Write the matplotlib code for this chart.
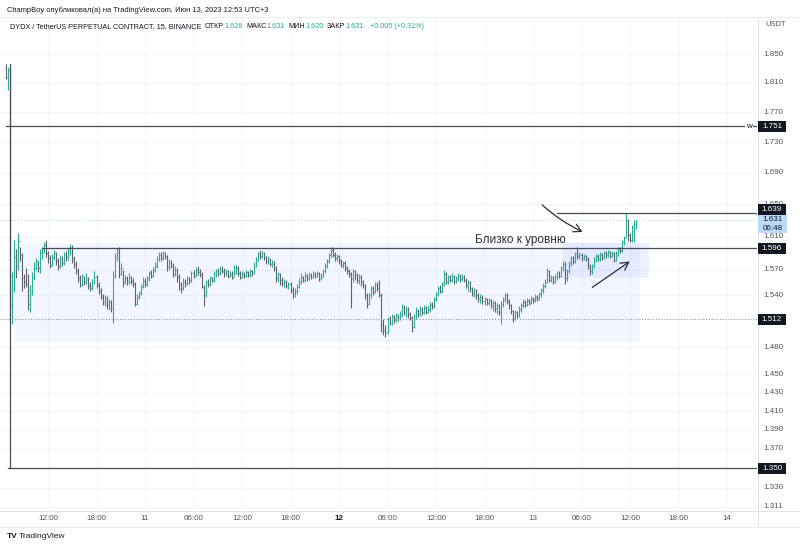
import numpy as np
import matplotlib
matplotlib.use("Agg")
import matplotlib.pyplot as plt
from matplotlib.collections import LineCollection
from matplotlib.patches import Rectangle
from matplotlib.lines import Line2D
from matplotlib.transforms import blended_transform_factory

plt.rcParams['font.family'] = ['Liberation Sans', 'DejaVu Sans']

# ---------------- data (15-min OHLC, DYDX/USDT) ----------------
first_bar_hour = 6.75          # hours from 2023-06-10 00:00
bar_step = 0.25                # 15 minutes
first_open = 1.830

close = [
    1.818, 1.828, 1.530, 1.555, 1.585, 1.575, 1.605, 1.588, 1.560, 1.555,
    1.553, 1.530, 1.545, 1.560, 1.572, 1.580, 1.572, 1.590, 1.594, 1.600,
    1.590, 1.584, 1.576, 1.585, 1.590, 1.580, 1.574, 1.583, 1.578, 1.588,
    1.585, 1.594, 1.598, 1.583, 1.577, 1.568, 1.560, 1.553, 1.561, 1.556,
    1.560, 1.551, 1.548, 1.556, 1.562, 1.552, 1.545, 1.538, 1.532, 1.537,
    1.528, 1.532, 1.525, 1.563, 1.585, 1.592, 1.565, 1.572, 1.555, 1.560,
    1.556, 1.561, 1.557, 1.553, 1.530, 1.538, 1.542, 1.550, 1.557, 1.553,
    1.560, 1.566, 1.563, 1.570, 1.575, 1.583, 1.588, 1.584, 1.590, 1.586,
    1.573, 1.578, 1.575, 1.565, 1.570, 1.562, 1.553, 1.548, 1.556, 1.554,
    1.560, 1.558, 1.566, 1.564, 1.570, 1.567, 1.565, 1.550, 1.540, 1.556,
    1.553, 1.560, 1.558, 1.565, 1.568, 1.566, 1.571, 1.569, 1.566, 1.568,
    1.563, 1.565, 1.562, 1.566, 1.572, 1.566, 1.562, 1.565, 1.563, 1.567,
    1.564, 1.568, 1.566, 1.575, 1.582, 1.589, 1.586, 1.590, 1.585, 1.580,
    1.583, 1.577, 1.579, 1.572, 1.560, 1.565, 1.558, 1.554, 1.556, 1.551,
    1.553, 1.546, 1.542, 1.545, 1.550, 1.556, 1.562, 1.558, 1.563, 1.560,
    1.564, 1.562, 1.565, 1.563, 1.566, 1.560, 1.563, 1.568, 1.575, 1.580,
    1.588, 1.594, 1.588, 1.584, 1.586, 1.580, 1.576, 1.578, 1.572, 1.568,
    1.565, 1.560, 1.568, 1.564, 1.558, 1.562, 1.555, 1.552, 1.540, 1.530,
    1.540, 1.548, 1.544, 1.552, 1.549, 1.540, 1.505, 1.500, 1.497, 1.512,
    1.508, 1.515, 1.511, 1.516, 1.513, 1.518, 1.526, 1.520, 1.524, 1.518,
    1.514, 1.503, 1.515, 1.522, 1.518, 1.524, 1.520, 1.525, 1.521, 1.524,
    1.529, 1.527, 1.535, 1.541, 1.548, 1.545, 1.553, 1.565, 1.556, 1.561,
    1.558, 1.562, 1.557, 1.560, 1.563, 1.559, 1.562, 1.558, 1.552, 1.555,
    1.548, 1.543, 1.546, 1.540, 1.536, 1.538, 1.533, 1.535, 1.531, 1.534,
    1.528, 1.531, 1.525, 1.528, 1.521, 1.530, 1.535, 1.540, 1.533, 1.528,
    1.522, 1.514, 1.520, 1.517, 1.524, 1.528, 1.532, 1.529, 1.534, 1.532,
    1.536, 1.534, 1.538, 1.536, 1.541, 1.546, 1.551, 1.556, 1.568, 1.558,
    1.561, 1.556, 1.562, 1.566, 1.563, 1.572, 1.577, 1.560, 1.568, 1.578,
    1.584, 1.580, 1.590, 1.586, 1.588, 1.584, 1.587, 1.583, 1.575, 1.568,
    1.574, 1.582, 1.586, 1.583, 1.588, 1.585, 1.590, 1.588, 1.591, 1.587,
    1.590, 1.582, 1.590, 1.595, 1.593, 1.603, 1.608, 1.630, 1.612, 1.606,
    1.622, 1.626, 1.631,
]

high = [
    1.836, 1.832, 1.828, 1.567, 1.606, 1.595, 1.615, 1.598, 1.590, 1.565,
    1.572, 1.565, 1.552, 1.567, 1.579, 1.584, 1.580, 1.595, 1.597, 1.604,
    1.606, 1.593, 1.588, 1.589, 1.594, 1.592, 1.584, 1.588, 1.586, 1.591,
    1.593, 1.598, 1.601, 1.600, 1.586, 1.580, 1.572, 1.564, 1.565, 1.563,
    1.566, 1.562, 1.556, 1.559, 1.568, 1.564, 1.556, 1.549, 1.541, 1.540,
    1.539, 1.536, 1.534, 1.568, 1.590, 1.596, 1.597, 1.578, 1.570, 1.564,
    1.563, 1.566, 1.563, 1.560, 1.555, 1.541, 1.545, 1.553, 1.562, 1.560,
    1.563, 1.569, 1.570, 1.573, 1.579, 1.586, 1.592, 1.591, 1.593, 1.592,
    1.588, 1.583, 1.582, 1.578, 1.574, 1.572, 1.565, 1.556, 1.560, 1.559,
    1.563, 1.562, 1.569, 1.570, 1.573, 1.574, 1.571, 1.567, 1.552, 1.558,
    1.559, 1.563, 1.562, 1.568, 1.571, 1.572, 1.574, 1.574, 1.572, 1.571,
    1.570, 1.569, 1.568, 1.576, 1.576, 1.574, 1.569, 1.568, 1.567, 1.570,
    1.569, 1.571, 1.570, 1.579, 1.585, 1.591, 1.594, 1.593, 1.592, 1.587,
    1.586, 1.584, 1.582, 1.580, 1.574, 1.567, 1.566, 1.561, 1.559, 1.558,
    1.556, 1.555, 1.550, 1.548, 1.553, 1.560, 1.566, 1.563, 1.567, 1.565,
    1.567, 1.566, 1.568, 1.567, 1.569, 1.567, 1.566, 1.571, 1.578, 1.583,
    1.590, 1.597, 1.597, 1.591, 1.589, 1.588, 1.583, 1.581, 1.580, 1.575,
    1.571, 1.567, 1.571, 1.570, 1.566, 1.565, 1.564, 1.558, 1.553, 1.542,
    1.543, 1.551, 1.551, 1.555, 1.556, 1.558, 1.542, 1.512, 1.505, 1.515,
    1.516, 1.518, 1.517, 1.519, 1.518, 1.522, 1.530, 1.528, 1.527, 1.526,
    1.521, 1.516, 1.518, 1.526, 1.524, 1.527, 1.526, 1.528, 1.527, 1.527,
    1.532, 1.532, 1.538, 1.544, 1.551, 1.552, 1.556, 1.570, 1.567, 1.564,
    1.564, 1.566, 1.564, 1.563, 1.566, 1.565, 1.565, 1.564, 1.560, 1.558,
    1.557, 1.550, 1.549, 1.547, 1.542, 1.541, 1.540, 1.538, 1.537, 1.537,
    1.536, 1.534, 1.533, 1.531, 1.530, 1.533, 1.538, 1.543, 1.542, 1.536,
    1.530, 1.523, 1.523, 1.522, 1.527, 1.531, 1.535, 1.534, 1.537, 1.536,
    1.539, 1.538, 1.541, 1.540, 1.544, 1.549, 1.554, 1.559, 1.572, 1.570,
    1.564, 1.563, 1.565, 1.568, 1.568, 1.575, 1.580, 1.579, 1.571, 1.581,
    1.587, 1.586, 1.592, 1.597, 1.591, 1.590, 1.589, 1.588, 1.585, 1.577,
    1.577, 1.585, 1.589, 1.589, 1.591, 1.590, 1.593, 1.593, 1.594, 1.593,
    1.593, 1.591, 1.593, 1.598, 1.598, 1.606, 1.611, 1.639, 1.632, 1.615,
    1.625, 1.631, 1.631,
]

low = [
    1.815, 1.800, 1.515, 1.507, 1.544, 1.560, 1.570, 1.580, 1.545, 1.548,
    1.550, 1.523, 1.520, 1.540, 1.558, 1.570, 1.567, 1.566, 1.583, 1.590,
    1.585, 1.578, 1.572, 1.574, 1.582, 1.576, 1.570, 1.572, 1.575, 1.576,
    1.580, 1.582, 1.588, 1.578, 1.572, 1.565, 1.555, 1.550, 1.551, 1.552,
    1.553, 1.547, 1.545, 1.546, 1.553, 1.548, 1.541, 1.535, 1.528, 1.527,
    1.524, 1.523, 1.520, 1.508, 1.560, 1.580, 1.560, 1.564, 1.550, 1.553,
    1.552, 1.553, 1.553, 1.550, 1.527, 1.528, 1.535, 1.540, 1.548, 1.550,
    1.551, 1.557, 1.560, 1.561, 1.567, 1.572, 1.580, 1.580, 1.582, 1.583,
    1.568, 1.570, 1.572, 1.561, 1.563, 1.555, 1.546, 1.543, 1.546, 1.550,
    1.552, 1.553, 1.556, 1.560, 1.562, 1.564, 1.561, 1.548, 1.527, 1.538,
    1.550, 1.551, 1.555, 1.556, 1.562, 1.563, 1.564, 1.566, 1.562, 1.563,
    1.560, 1.561, 1.559, 1.563, 1.565, 1.563, 1.559, 1.560, 1.560, 1.561,
    1.561, 1.562, 1.563, 1.565, 1.573, 1.580, 1.583, 1.584, 1.582, 1.577,
    1.577, 1.574, 1.573, 1.568, 1.556, 1.556, 1.552, 1.551, 1.550, 1.548,
    1.547, 1.543, 1.537, 1.538, 1.541, 1.548, 1.553, 1.555, 1.556, 1.557,
    1.558, 1.559, 1.560, 1.560, 1.561, 1.557, 1.558, 1.561, 1.566, 1.572,
    1.578, 1.585, 1.585, 1.580, 1.580, 1.577, 1.573, 1.572, 1.569, 1.565,
    1.561, 1.525, 1.555, 1.558, 1.554, 1.553, 1.551, 1.548, 1.535, 1.525,
    1.528, 1.537, 1.540, 1.542, 1.545, 1.538, 1.497, 1.494, 1.492, 1.495,
    1.505, 1.506, 1.508, 1.509, 1.510, 1.511, 1.515, 1.517, 1.515, 1.514,
    1.511, 1.498, 1.502, 1.512, 1.515, 1.516, 1.517, 1.518, 1.518, 1.519,
    1.521, 1.524, 1.525, 1.533, 1.539, 1.542, 1.543, 1.551, 1.553, 1.553,
    1.555, 1.556, 1.553, 1.554, 1.557, 1.556, 1.557, 1.555, 1.548, 1.545,
    1.544, 1.539, 1.538, 1.536, 1.532, 1.531, 1.530, 1.529, 1.528, 1.528,
    1.525, 1.522, 1.520, 1.518, 1.517, 1.507, 1.526, 1.532, 1.530, 1.524,
    1.518, 1.509, 1.511, 1.513, 1.515, 1.521, 1.525, 1.526, 1.527, 1.529,
    1.530, 1.531, 1.532, 1.533, 1.534, 1.538, 1.543, 1.548, 1.554, 1.555,
    1.555, 1.553, 1.554, 1.558, 1.560, 1.562, 1.569, 1.553, 1.557, 1.566,
    1.575, 1.577, 1.578, 1.583, 1.583, 1.581, 1.582, 1.580, 1.571, 1.564,
    1.565, 1.572, 1.579, 1.580, 1.581, 1.582, 1.583, 1.584, 1.585, 1.584,
    1.585, 1.579, 1.580, 1.587, 1.590, 1.591, 1.600, 1.610, 1.605, 1.603,
    1.604, 1.603, 1.620,
]

price_ticks = [1.850, 1.810, 1.770, 1.730, 1.690, 1.650, 1.610, 1.570, 1.540,
               1.480, 1.450, 1.430, 1.410, 1.390, 1.370, 1.330, 1.311]
time_tick_hours = [12, 18, 24, 30, 36, 42, 48, 54, 60, 66, 72, 78, 84, 90, 96]
time_tick_labels = ['12:00', '18:00', '11', '06:00', '12:00', '18:00', '12',
                    '06:00', '12:00', '18:00', '13', '06:00', '12:00', '18:00', '14']

level_lines = {'1.751': 1.751, '1.639': 1.639, '1.596': 1.596, '1.512': 1.512, '1.350': 1.350}
last_price = 1.631
legend_labels = ['ОТКР', 'МАКС', 'МИН', 'ЗАКР']
legend_values = ['1.626', '1.631', '1.620', '1.631']
legend_change = '+0.005 (+0.31%)'

# ---------------- figure ----------------
W, H = 800, 547
fig = plt.figure(figsize=(W / 100, H / 100), dpi=100)
fig.patch.set_facecolor('white')

def fx(px):
    return px / W

def fy(py):
    return 1 - py / H

ax = fig.add_axes([0, fy(511), fx(757), (511 - 17) / H])
ax.set_yscale('log')
ax.set_ylim(1.3069, 1.9028)
ax.set_xlim(6.06, 99.71)
for s in ax.spines.values():
    s.set_visible(False)
ax.set_yticks([])
ax.yaxis.set_minor_locator(matplotlib.ticker.NullLocator())
ax.set_xticks(time_tick_hours)
ax.set_xticklabels(time_tick_labels)
ax.tick_params(axis='x', length=0, pad=3, labelsize=5.8, colors='#50535e')
for lab in ax.get_xticklabels():
    if lab.get_text() == '12':
        lab.set_fontweight('bold')
        lab.set_color('#131722')

# grid
for p in price_ticks:
    ax.axhline(p, color='#f3f4f8', lw=0.8, zorder=0)
for t in time_tick_hours:
    ax.axvline(t, color='#f6f7f9', lw=0.8, zorder=0)

# rectangles
ax.add_patch(Rectangle((7.79, 1.486), 85.24 - 7.79, 1.602 - 1.486,
                       facecolor=(0.16, 0.38, 1.0, 0.05), edgecolor='none', zorder=1))
ax.add_patch(Rectangle((75.71, 1.560), 86.35 - 75.71, 1.602 - 1.560,
                       facecolor=(0.16, 0.38, 1.0, 0.08), edgecolor='none', zorder=1))

# OHLC bars
n = min(len(close), len(high), len(low))
xs = first_bar_hour + bar_step * np.arange(n)
opens = [first_open] + close[:n - 1]
tick_w = 0.08
up_col, dn_col = '#2bae97', '#60636c'
segs, cols = [], []
for i in range(n):
    x = xs[i]
    col = up_col if close[i] >= opens[i] else dn_col
    segs.append([(x, low[i]), (x, high[i])])
    segs.append([(x - tick_w, opens[i]), (x, opens[i])])
    segs.append([(x, close[i]), (x + tick_w, close[i])])
    cols += [col] * 3
ax.add_collection(LineCollection(segs, colors=cols, linewidths=0.8, zorder=3))

# drawn lines
xr = 99.71
ax.plot([6.80, xr], [1.751, 1.751], color='#4a4c55', lw=0.9, zorder=4)
ax.plot([7.05, xr], [1.350, 1.350], color='#4a4c55', lw=0.9, zorder=4)
ax.plot([7.30, 7.30], [1.836, 1.350], color='#4a4c55', lw=0.9, zorder=4)
ax.plot([11.26, xr], [1.596, 1.596], color='#4a4c55', lw=0.9, zorder=4)
ax.plot([74.97, xr], [1.639, 1.639], color='#4a4c55', lw=0.9, zorder=4)
ax.plot([6.06, xr], [1.512, 1.512], color='#9598a1', lw=0.8, ls=(0, (1, 1.5)), zorder=4)
ax.plot([6.06, xr], [last_price, last_price], color='#a8d0f7', lw=0.7, ls=(0, (1, 2)), zorder=2)

ax.text(98.7, 1.751, 'w', fontsize=5.8, color='#131722', ha='center', va='center',
        bbox=dict(boxstyle='square,pad=0.15', fc='white', ec='none'), zorder=5)

# annotation text and arrows
ax.text(64.83, 1.606, 'Близко к уровню', fontsize=8.5, color='#2a2e39',
        ha='left', va='center', zorder=6)
ax.annotate('', xy=(78.44, 1.6145), xytext=(72.87, 1.6518),
            arrowprops=dict(arrowstyle='->,head_length=0.55,head_width=0.3', color='#2a2e39',
                            lw=0.9, connectionstyle='arc3,rad=0.08'), zorder=6)
ax.annotate('', xy=(84.25, 1.5818), xytext=(79.05, 1.5473),
            arrowprops=dict(arrowstyle='->,head_length=0.55,head_width=0.3', color='#2a2e39',
                            lw=0.9, connectionstyle='arc3,rad=0.0'), zorder=6)

# ---------------- price scale ----------------
btr = blended_transform_factory(fig.transFigure, ax.transData)
for p in price_ticks:
    fig.text(fx(763), p, f'{p:.3f}', transform=btr, fontsize=5.8, color='#50535e',
             ha='left', va='center')

def ypix(price):
    disp = ax.transData.transform((10, price))
    return fig.transFigure.inverted().transform(disp)[1]

label_shift_px = {'1.639': 4.0}
for txt, p in level_lines.items():
    yc = ypix(p) + label_shift_px.get(txt, 0.0) / H
    fig.add_artist(Rectangle((fx(758), yc - 5.5 / H), fx(786) - fx(758), 11 / H,
                             transform=fig.transFigure, facecolor='#131722', edgecolor='none', zorder=5))
    fig.text(fx(772), yc, txt, fontsize=5.8, color='white', ha='center', va='center', zorder=6)

yc = ypix(last_price)
fig.add_artist(Rectangle((fx(758), yc - 13 / H), fx(787) - fx(758), 17.5 / H,
                         transform=fig.transFigure, facecolor='#bcdaf8', edgecolor='none', zorder=5))
fig.text(fx(772.5), yc, '1.631', fontsize=5.8, color='#131722', ha='center', va='center', zorder=6)
fig.text(fx(772.5), yc - 8.5 / H, '06:48', fontsize=5.8, color='#131722', ha='center', va='center', zorder=6)

# frame lines
fig.add_artist(Line2D([fx(757.5), fx(757.5)], [fy(17), fy(527)], color='#e0e3eb', lw=0.8))
fig.add_artist(Line2D([0, 1], [fy(17), fy(17)], color='#eceef2', lw=0.8))
fig.add_artist(Line2D([0, 1], [fy(511), fy(511)], color='#e0e3eb', lw=0.8))
fig.add_artist(Line2D([0, 1], [fy(527), fy(527)], color='#eceef2', lw=0.8))

# ---------------- header ----------------
fig.text(fx(7), fy(10), 'ChampBoy опубликовал(а) на TradingView.com, Июн 13, 2023 12:53 UTC+3',
         fontsize=5.4, color='#131722', ha='left', va='center')
teal = '#22ab94'
hy = fy(27)
fs_leg = 5.25
fig.text(fx(10), hy, 'DYDX / TetherUS PERPETUAL CONTRACT, 15, BINANCE', fontsize=fs_leg,
         color='#131722', ha='left', va='center')
renderer = fig.canvas.get_renderer()
label_x = [205, 246, 288, 327]
for lx, lab, val in zip(label_x, legend_labels, legend_values):
    t = fig.text(fx(lx), hy, lab, fontsize=fs_leg, color='#131722', ha='left', va='center')
    w = t.get_window_extent(renderer).width
    fig.text(fx(lx + w + 0.5), hy, val, fontsize=fs_leg, color=teal, ha='left', va='center')
fig.text(fx(370), hy, legend_change, fontsize=fs_leg, color=teal, ha='left', va='center')
fig.text(fx(765), fy(25), 'USDT', fontsize=5.4, color='#50535e', ha='left', va='center')

# footer logo
fig.text(fx(7), fy(536), 'TV', fontsize=6, fontweight='bold', color='#131722', ha='left', va='center')
fig.text(fx(19), fy(536), 'TradingView', fontsize=6, color='#131722', ha='left', va='center')

fig.savefig('out.png', dpi=100, facecolor='white')
